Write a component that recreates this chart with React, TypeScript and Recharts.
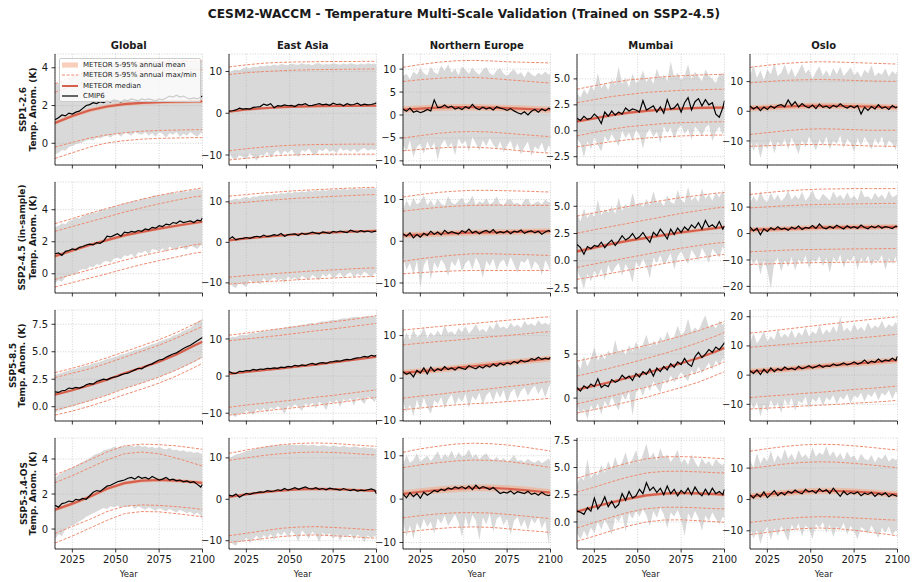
import React from 'react';
import { ComposedChart, Area, Line, XAxis, YAxis, CartesianGrid, Legend } from 'recharts';

const FONT = '"DejaVu Sans", "Liberation Sans", sans-serif';
const TITLE = 'CESM2-WACCM - Temperature Multi-Scale Validation (Trained on SSP2-4.5)';

const SCENARIOS = ['SSP1-2.6', 'SSP2-4.5 (in-sample)', 'SSP5-8.5', 'SSP5-3.4-OS'];
const Y_LABEL = 'Temp. Anom. (K)';
const REGIONS = ['Global', 'East Asia', 'Northern Europe', 'Mumbai', 'Oslo'];
const YEAR_TICKS = [2025, 2050, 2075, 2100];

// CMIP6 samples: every other year plus the final year
const SAMPLE_YEARS = [
  2015, 2017, 2019, 2021, 2023, 2025, 2027, 2029, 2031, 2033, 2035, 2037, 2039, 2041, 2043,
  2045, 2047, 2049, 2051, 2053, 2055, 2057, 2059, 2061, 2063, 2065, 2067, 2069, 2071, 2073,
  2075, 2077, 2079, 2081, 2083, 2085, 2087, 2089, 2091, 2093, 2095, 2097, 2099, 2100,
];
// METEOR ensemble statistics, decadal steps
const ENSEMBLE_YEARS = [2015, 2025, 2035, 2045, 2055, 2065, 2075, 2085, 2095, 2100];

// Region order in every table: Global, East Asia, Northern Europe, Mumbai, Oslo
const Y_TICKS = [
  [[0, 2, 4], [-10, 0, 10], [-10, -5, 0, 5, 10], [-2.5, 0, 2.5, 5], [-10, 0, 10]],
  [[0, 2, 4], [-10, 0, 10], [-10, 0, 10], [-2.5, 0, 2.5, 5], [-20, -10, 0, 10]],
  [[0, 2.5, 5, 7.5], [-10, 0, 10], [-10, 0, 10], [0, 5], [-10, 0, 10, 20]],
  [[0, 2, 4], [-10, 0, 10], [-10, 0, 10], [0, 2.5, 5, 7.5], [-10, 0, 10]],
];
const Y_DECIMALS = [
  [0, 0, 0, 1, 0],
  [0, 0, 0, 1, 0],
  [1, 0, 0, 0, 0],
  [0, 0, 0, 1, 0],
];
const Y_DOMAINS = [
  [[-1.15, 4.73], [-12.4, 14.2], [-10.9, 13.3], [-3.3, 7.4], [-18.1, 19.3]],
  [[-1.2, 5.73], [-12.5, 14.9], [-12.4, 14.2], [-2.96, 7.23], [-22.5, 19.5]],
  [[-1.3, 8.8], [-12.1, 17.8], [-10.05, 16], [-2.6, 10.0], [-15.7, 22.3]],
  [[-1.14, 5.2], [-12.0, 14.8], [-11.5, 14.1], [-2.48, 7.71], [-15.8, 19.6]],
];

// ---------------- SSP1-2.6 ----------------
const ssp126Median = [
  [1.08, 1.45, 1.75, 1.95, 2.07, 2.14, 2.18, 2.2, 2.22, 2.22],
  [0.4, 0.9, 1.2, 1.45, 1.6, 1.7, 1.75, 1.78, 1.8, 1.8],
  [1.2, 1.4, 1.6, 1.7, 1.7, 1.6, 1.5, 1.35, 1.2, 1.15],
  [0.9, 1.2, 1.5, 1.75, 1.92, 2.05, 2.13, 2.2, 2.23, 2.24],
  [1.0, 1.3, 1.6, 1.8, 1.85, 1.8, 1.7, 1.55, 1.4, 1.35],
];
const ssp126BandLo = [
  [0.98, 1.35, 1.65, 1.85, 1.97, 2.04, 2.08, 2.1, 2.12, 2.12],
  [0.1, 0.6, 0.9, 1.15, 1.3, 1.4, 1.45, 1.48, 1.5, 1.5],
  [0.5, 0.7, 0.9, 1.0, 1.0, 0.9, 0.8, 0.65, 0.5, 0.45],
  [0.75, 1.05, 1.35, 1.6, 1.77, 1.9, 1.98, 2.05, 2.08, 2.09],
  [0.0, 0.3, 0.6, 0.8, 0.85, 0.8, 0.7, 0.55, 0.4, 0.35],
];
const ssp126BandHi = [
  [1.18, 1.55, 1.85, 2.05, 2.17, 2.24, 2.28, 2.3, 2.32, 2.32],
  [0.7, 1.2, 1.5, 1.75, 1.9, 2.0, 2.05, 2.08, 2.1, 2.1],
  [1.9, 2.1, 2.3, 2.4, 2.4, 2.3, 2.2, 2.05, 1.9, 1.85],
  [1.05, 1.35, 1.65, 1.9, 2.07, 2.2, 2.28, 2.35, 2.38, 2.39],
  [2.0, 2.3, 2.6, 2.8, 2.85, 2.8, 2.7, 2.55, 2.4, 2.35],
];
const ssp126OuterHi = [
  [3.15, 3.5, 3.85, 4.1, 4.22, 4.3, 4.33, 4.35, 4.36, 4.36],
  [11.1, 11.6, 12.0, 12.2, 12.3, 12.35, 12.4, 12.4, 12.45, 12.45],
  [10.4, 11.0, 11.5, 11.8, 11.9, 11.8, 11.6, 11.5, 11.4, 11.35],
  [4.0, 4.35, 4.65, 4.9, 5.05, 5.2, 5.3, 5.38, 5.42, 5.45],
  [14.8, 15.5, 16.1, 16.5, 16.7, 16.6, 16.4, 16.2, 16.0, 15.9],
];
const ssp126InnerHi = [
  [2.7, 3.05, 3.35, 3.6, 3.75, 3.82, 3.86, 3.88, 3.9, 3.9],
  [9.3, 9.7, 10.0, 10.2, 10.35, 10.45, 10.5, 10.55, 10.6, 10.6],
  [7.3, 7.7, 8.0, 8.2, 8.2, 8.0, 7.7, 7.4, 7.1, 7.0],
  [2.7, 3.0, 3.3, 3.5, 3.7, 3.8, 3.9, 3.95, 4.0, 4.0],
  [9.6, 10.0, 10.4, 10.6, 10.7, 10.6, 10.4, 10.2, 10.1, 10.1],
];
const ssp126InnerLo = [
  [-0.2, 0.05, 0.28, 0.45, 0.56, 0.64, 0.68, 0.7, 0.72, 0.72],
  [-9.0, -8.5, -8.1, -7.8, -7.6, -7.5, -7.45, -7.4, -7.4, -7.4],
  [-5.0, -4.5, -4.0, -3.7, -3.6, -3.7, -4.0, -4.3, -4.6, -4.7],
  [-0.5, -0.15, 0.15, 0.4, 0.55, 0.7, 0.78, 0.83, 0.86, 0.87],
  [-7.8, -7.2, -6.6, -6.1, -5.9, -6.0, -6.2, -6.4, -6.4, -6.4],
];
const ssp126OuterLo = [
  [-0.8, -0.5, -0.2, 0.02, 0.14, 0.22, 0.26, 0.28, 0.3, 0.3],
  [-11.2, -10.8, -10.4, -10.1, -9.95, -9.85, -9.8, -9.8, -9.8, -9.8],
  [-7.8, -7.5, -7.2, -7.0, -7.0, -7.2, -7.5, -7.9, -8.2, -8.3],
  [-1.55, -1.3, -1.05, -0.85, -0.7, -0.6, -0.5, -0.45, -0.42, -0.42],
  [-11.8, -11.6, -11.4, -11.2, -11.2, -11.3, -11.5, -11.7, -11.8, -11.8],
];
const ssp126Cmip6 = [
  [1.25, 1.35, 1.5, 1.45, 1.6, 1.55, 1.65, 1.7, 1.85, 2.0, 2.05, 2.15, 2.1, 2.2, 2.15, 2.25, 2.2, 2.3, 2.25, 2.2, 2.3, 2.25, 2.35, 2.3, 2.25, 2.35, 2.3, 2.35, 2.3, 2.25, 2.35, 2.3, 2.4, 2.5, 2.45, 2.55, 2.45, 2.5, 2.4, 2.35, 2.4, 2.35, 2.45, 2.5],
  [0.5, 0.6, 0.8, 1.2, 1.0, 1.1, 1.0, 1.4, 1.5, 1.6, 2.2, 1.9, 2.3, 1.3, 1.8, 1.7, 2.0, 1.8, 1.9, 1.6, 2.1, 2.0, 2.3, 1.8, 1.9, 2.1, 2.3, 2.0, 2.2, 1.9, 2.4, 2.1, 2.2, 1.8, 2.3, 2.0, 2.1, 2.4, 1.9, 2.2, 2.0, 2.1, 2.3, 2.5],
  [1.3, 0.8, 1.5, 0.6, 0.9, 0.5, 0.8, 1.2, 0.9, 3.3, 1.6, 1.7, 2.2, 1.6, 1.9, 1.3, 1.6, 1.2, 1.8, 1.4, 2.3, 1.5, 1.2, 1.7, 1.3, 1.6, 1.1, 1.8, 1.5, 1.3, 1.0, 1.4, 0.9, 0.5, 0.2, 0.7, 0.0, 0.8, 1.2, 0.6, 1.3, 0.9, 1.5, 1.3],
  [1.2, 1.0, 1.4, 1.1, 1.2, 1.6, 1.3, 0.7, 1.8, 1.4, 1.9, 1.5, 1.8, 1.6, 2.2, 1.9, 2.1, 2.0, 1.8, 2.9, 2.0, 2.2, 2.4, 1.8, 2.3, 1.7, 3.0, 2.1, 2.2, 2.6, 1.8, 2.7, 3.2, 2.0, 2.8, 3.1, 2.4, 3.0, 2.5, 2.7, 1.6, 1.3, 2.2, 2.9],
  [1.8, 0.8, 1.6, 0.2, 1.4, 0.6, 1.8, 1.0, 1.9, 2.2, 1.5, 3.8, 1.9, 3.2, 1.4, 2.6, 1.6, 1.2, 2.1, 0.9, 2.4, 1.3, 1.7, 1.0, 2.0, 1.4, 2.5, 1.6, 1.1, 1.8, 1.2, 1.9, -0.9, 1.4, 0.3, 1.6, 0.8, 2.2, 1.0, 1.5, 0.6, 1.9, 1.2, 1.5],
];
const ssp126RangeHi = [
  [3.1, 3.2, 3.3, 3.25, 3.4, 3.5, 3.55, 3.7, 3.75, 3.85, 3.9, 4.0, 3.95, 4.1, 4.15, 4.1, 4.2, 4.25, 4.2, 4.3, 4.25, 4.35, 4.3, 4.4, 4.3, 4.35, 4.4, 4.3, 4.45, 4.35, 4.4, 4.3, 4.4, 4.45, 4.35, 4.4, 4.3, 4.45, 4.4, 4.35, 4.4, 4.3, 4.4, 4.35],
  [9.8, 10.2, 10.5, 10.3, 10.8, 11.0, 10.7, 11.2, 11.0, 11.4, 11.2, 11.5, 11.3, 11.7, 11.4, 11.8, 11.6, 11.5, 11.9, 11.7, 11.6, 12.0, 11.7, 11.8, 11.5, 11.9, 12.0, 11.6, 11.8, 11.7, 12.0, 11.8, 11.6, 11.9, 11.7, 12.0, 11.8, 11.6, 11.9, 11.7, 12.0, 11.8, 11.9, 11.7],
  [8.5, 9.0, 7.8, 9.5, 8.8, 10.2, 9.1, 8.6, 10.5, 9.3, 8.9, 10.8, 9.6, 11.0, 9.2, 10.1, 8.7, 10.6, 9.8, 9.0, 10.3, 9.4, 8.8, 9.9, 10.4, 9.1, 8.6, 9.7, 10.2, 9.0, 8.5, 9.4, 10.0, 8.8, 9.3, 8.2, 9.6, 8.9, 8.4, 9.2, 8.7, 9.5, 8.8, 9.1],
  [3.6, 3.2, 4.0, 3.5, 4.4, 3.8, 5.6, 4.1, 4.6, 3.9, 5.0, 4.4, 6.2, 4.5, 5.1, 4.2, 5.5, 4.6, 4.9, 5.8, 4.7, 5.2, 4.5, 6.0, 5.0, 5.4, 4.8, 6.7, 5.1, 5.6, 4.9, 5.3, 6.4, 5.0, 5.7, 5.2, 4.8, 5.9, 5.3, 5.0, 4.6, 5.4, 5.6, 5.2],
  [12.0, 15.5, 11.2, 13.8, 10.5, 14.2, 12.5, 16.3, 11.8, 13.0, 15.8, 12.2, 14.5, 11.5, 13.6, 16.0, 12.8, 14.1, 11.0, 13.3, 15.2, 12.0, 13.8, 11.6, 14.6, 12.4, 15.0, 11.9, 13.2, 14.8, 12.1, 13.5, 11.4, 14.0, 12.7, 15.4, 11.8, 13.1, 12.3, 14.4, 11.7, 13.6, 12.5, 13.9],
];
const ssp126RangeLo = [
  [-0.6, -0.5, -0.35, -0.4, -0.2, -0.15, -0.05, 0.0, 0.05, 0.15, 0.2, 0.15, 0.3, 0.25, 0.35, 0.4, 0.3, 0.45, 0.5, 0.35, 0.55, 0.5, 0.4, 0.6, 0.5, 0.45, 0.6, 0.4, 0.55, 0.35, 0.6, 0.5, 0.3, 0.55, 0.45, 0.6, 0.35, 0.5, 0.4, 0.6, 0.45, 0.35, 0.55, 0.5],
  [-9.5, -10.8, -11.2, -10.0, -10.5, -11.0, -9.6, -10.4, -11.3, -9.8, -10.2, -9.2, -10.6, -9.5, -8.8, -10.0, -9.0, -9.5, -8.6, -9.8, -10.4, -8.8, -9.2, -8.5, -9.6, -10.0, -8.7, -9.1, -8.4, -9.3, -8.8, -9.6, -8.3, -9.0, -8.6, -9.2, -8.5, -9.4, -8.7, -8.3, -9.0, -8.6, -8.8, -8.5],
  [-6.5, -8.0, -5.5, -9.2, -7.0, -6.2, -8.5, -5.8, -7.4, -6.0, -9.8, -6.5, -5.4, -7.2, -6.0, -8.8, -5.2, -6.4, -5.6, -8.0, -4.8, -6.2, -7.8, -5.5, -6.8, -5.0, -6.5, -7.4, -5.8, -8.2, -6.6, -5.6, -7.8, -6.2, -8.6, -7.0, -5.8, -9.0, -6.8, -7.6, -6.0, -8.4, -6.6, -7.2],
  [-0.8, -1.2, -2.6, -1.0, -1.8, -0.6, -1.4, -2.0, -0.5, -1.1, -0.3, -0.9, -1.5, 0.0, -0.7, -0.2, -1.0, 0.1, -0.4, -1.7, -0.3, 0.2, -0.6, -0.1, -1.2, 0.4, -0.2, 0.3, -0.8, 0.1, 0.5, -0.3, 0.2, -0.9, 0.4, 0.0, -0.5, 0.3, 0.6, -1.0, -0.1, 0.4, -0.4, 0.2],
  [-9.0, -13.5, -10.5, -15.8, -11.0, -12.6, -9.5, -14.2, -10.2, -12.0, -9.2, -13.0, -8.8, -11.5, -14.5, -9.6, -12.2, -8.6, -10.8, -13.2, -9.4, -11.6, -8.5, -12.8, -9.9, -11.0, -8.2, -12.4, -9.3, -10.6, -13.6, -9.0, -11.8, -8.7, -10.4, -12.9, -9.1, -11.2, -8.4, -12.6, -9.7, -10.9, -13.1, -10.0],
];

// ---------------- SSP2-4.5 ----------------
const ssp245Median = [
  [1.1, 1.45, 1.8, 2.1, 2.4, 2.62, 2.82, 3.0, 3.17, 3.25],
  [0.5, 1.0, 1.35, 1.7, 2.0, 2.25, 2.45, 2.65, 2.8, 2.85],
  [1.4, 1.6, 1.8, 1.95, 2.05, 2.15, 2.2, 2.3, 2.35, 2.4],
  [0.85, 1.2, 1.55, 1.85, 2.1, 2.35, 2.6, 2.8, 3.0, 3.1],
  [1.3, 1.6, 1.8, 2.0, 2.2, 2.3, 2.4, 2.45, 2.5, 2.5],
];
const ssp245BandLo = [
  [1.0, 1.35, 1.7, 2.0, 2.3, 2.52, 2.72, 2.9, 3.07, 3.15],
  [0.2, 0.7, 1.05, 1.4, 1.7, 1.95, 2.15, 2.35, 2.5, 2.55],
  [0.7, 0.9, 1.1, 1.25, 1.35, 1.45, 1.5, 1.6, 1.65, 1.7],
  [0.7, 1.05, 1.4, 1.7, 1.95, 2.2, 2.45, 2.65, 2.85, 2.95],
  [0.3, 0.6, 0.8, 1.0, 1.2, 1.3, 1.4, 1.45, 1.5, 1.5],
];
const ssp245BandHi = [
  [1.2, 1.55, 1.9, 2.2, 2.5, 2.72, 2.92, 3.1, 3.27, 3.35],
  [0.8, 1.3, 1.65, 2.0, 2.3, 2.55, 2.75, 2.95, 3.1, 3.15],
  [2.1, 2.3, 2.5, 2.65, 2.75, 2.85, 2.9, 3.0, 3.05, 3.1],
  [1.0, 1.35, 1.7, 2.0, 2.25, 2.5, 2.75, 2.95, 3.15, 3.25],
  [2.3, 2.6, 2.8, 3.0, 3.2, 3.3, 3.4, 3.45, 3.5, 3.5],
];
const ssp245OuterHi = [
  [3.13, 3.45, 3.78, 4.08, 4.38, 4.65, 4.9, 5.1, 5.28, 5.36],
  [11.4, 11.8, 12.2, 12.5, 12.8, 13.0, 13.2, 13.4, 13.55, 13.6],
  [10.6, 11.2, 11.7, 12.0, 12.2, 12.2, 12.1, 12.0, 11.85, 11.8],
  [4.1, 4.4, 4.7, 5.0, 5.3, 5.55, 5.8, 6.0, 6.2, 6.27],
  [14.8, 15.5, 16.1, 16.5, 16.8, 16.9, 17.0, 17.0, 17.0, 17.0],
];
const ssp245InnerHi = [
  [2.65, 2.95, 3.25, 3.55, 3.85, 4.12, 4.37, 4.6, 4.8, 4.86],
  [9.55, 9.9, 10.3, 10.6, 10.9, 11.1, 11.35, 11.55, 11.75, 11.8],
  [7.2, 7.7, 8.1, 8.4, 8.6, 8.65, 8.65, 8.6, 8.6, 8.6],
  [2.53, 2.85, 3.15, 3.45, 3.75, 4.05, 4.35, 4.6, 4.85, 4.9],
  [9.7, 10.1, 10.5, 10.8, 11.0, 11.1, 11.2, 11.3, 11.4, 11.4],
];
const ssp245InnerLo = [
  [-0.35, -0.05, 0.25, 0.55, 0.85, 1.12, 1.36, 1.58, 1.8, 1.88],
  [-8.6, -8.2, -7.9, -7.6, -7.3, -7.0, -6.8, -6.55, -6.35, -6.3],
  [-4.8, -4.2, -3.7, -3.3, -3.0, -3.0, -3.1, -3.2, -3.35, -3.4],
  [-0.6, -0.3, 0.0, 0.3, 0.6, 0.9, 1.15, 1.4, 1.62, 1.68],
  [-6.9, -6.6, -6.3, -6.1, -6.0, -5.9, -5.8, -5.75, -5.7, -5.7],
];
const ssp245OuterLo = [
  [-0.83, -0.55, -0.27, 0.0, 0.3, 0.58, 0.82, 1.05, 1.28, 1.36],
  [-10.3, -10.0, -9.7, -9.5, -9.2, -9.0, -8.8, -8.6, -8.45, -8.4],
  [-7.8, -7.5, -7.3, -7.1, -7.0, -7.0, -7.0, -7.0, -7.0, -7.0],
  [-1.7, -1.45, -1.15, -0.85, -0.55, -0.25, 0.0, 0.25, 0.5, 0.6],
  [-11.7, -11.5, -11.3, -11.1, -11.0, -10.9, -10.8, -10.75, -10.7, -10.7],
];
const ssp245Cmip6 = [
  [1.25, 1.3, 1.15, 1.4, 1.45, 1.55, 1.5, 1.65, 1.7, 1.8, 1.85, 1.8, 1.95, 1.9, 2.05, 2.35, 2.3, 2.4, 2.5, 2.35, 2.6, 2.55, 2.65, 2.6, 2.7, 2.65, 2.8, 2.75, 2.9, 2.85, 3.0, 2.95, 3.1, 3.05, 3.2, 3.15, 3.3, 3.2, 3.25, 3.3, 3.2, 3.35, 3.3, 3.5],
  [0.8, 1.4, 0.6, 0.9, 1.0, 1.2, 1.0, 1.3, 1.5, 1.3, 1.8, 1.4, 1.6, 1.9, 1.7, 2.2, 1.5, 1.9, 2.0, 2.1, 1.7, 2.3, 2.0, 2.2, 2.5, 2.3, 2.1, 2.6, 2.4, 2.2, 2.7, 2.5, 2.8, 2.6, 2.4, 3.0, 2.7, 2.5, 2.9, 2.6, 2.8, 2.5, 2.7, 2.8],
  [1.8, 1.2, 2.0, 0.8, 1.6, 1.0, 1.9, 1.4, 2.4, 1.7, 2.2, 1.5, 2.6, 1.9, 2.3, 2.0, 1.7, 2.5, 2.1, 2.9, 2.0, 2.4, 1.8, 2.3, 2.6, 2.1, 2.8, 1.9, 2.3, 2.0, 2.5, 1.8, 2.4, 2.2, 2.7, 1.9, 2.3, 2.5, 2.0, 2.4, 1.7, 2.2, 2.6, 2.3],
  [1.5, 1.2, 0.6, 1.3, 1.1, 1.4, 1.3, 1.7, 1.2, 1.6, 1.9, 1.4, 1.8, 2.3, 1.9, 2.1, 2.5, 2.0, 2.2, 2.6, 2.1, 1.7, 2.6, 2.3, 2.9, 2.5, 2.0, 2.9, 2.4, 3.0, 2.6, 3.1, 2.8, 3.3, 3.0, 3.5, 2.9, 3.7, 3.1, 3.3, 3.0, 3.6, 2.9, 3.2],
  [2.5, 1.0, 2.0, -0.5, 1.8, 0.8, 2.2, 1.4, 2.6, 1.6, 2.0, 1.2, 2.4, 1.8, 2.8, 1.5, 2.3, 2.0, 3.0, 1.9, 3.6, 2.2, 1.8, 2.7, 2.0, 3.1, 2.4, 1.7, 2.9, 2.1, 2.6, 1.9, 3.2, 2.3, 1.8, 2.8, 2.2, 3.0, 2.0, 2.6, 2.3, 1.9, 2.8, 2.6],
];
const ssp245RangeHi = [
  [2.9, 3.0, 3.15, 3.1, 3.3, 3.35, 3.5, 3.45, 3.6, 3.7, 3.75, 3.85, 3.8, 4.0, 4.05, 4.0, 4.15, 4.25, 4.2, 4.35, 4.4, 4.45, 4.5, 4.6, 4.55, 4.7, 4.75, 4.7, 4.85, 4.9, 4.85, 5.0, 4.95, 5.05, 5.1, 5.0, 5.15, 5.2, 5.1, 5.25, 5.2, 5.3, 5.25, 5.3],
  [10.2, 10.5, 10.8, 10.6, 11.0, 11.2, 10.9, 11.4, 11.2, 11.6, 11.5, 11.8, 11.6, 12.0, 11.8, 12.2, 12.0, 12.4, 12.1, 12.5, 12.3, 12.6, 12.4, 12.8, 12.5, 12.9, 12.6, 13.0, 12.7, 13.1, 12.8, 13.2, 12.9, 13.3, 13.0, 13.2, 13.4, 13.1, 13.4, 13.2, 13.5, 13.3, 13.4, 13.3],
  [7.5, 9.8, 8.2, 10.5, 8.8, 9.4, 11.0, 8.6, 9.9, 8.4, 10.2, 9.0, 8.5, 10.8, 9.3, 8.8, 9.7, 10.4, 8.9, 9.5, 10.9, 8.7, 9.6, 9.1, 10.3, 8.8, 9.4, 10.7, 9.0, 8.6, 9.8, 10.1, 8.9, 9.3, 8.5, 9.9, 10.2, 8.7, 9.2, 9.6, 8.8, 10.0, 9.3, 9.5],
  [4.3, 3.6, 4.8, 3.9, 4.5, 4.0, 5.6, 4.2, 4.7, 4.4, 5.0, 4.3, 5.8, 4.6, 5.2, 4.8, 6.2, 5.0, 5.4, 4.9, 5.7, 5.1, 6.4, 5.3, 5.5, 5.0, 6.0, 5.4, 5.2, 6.5, 5.6, 5.3, 6.8, 5.5, 5.9, 5.4, 6.6, 5.7, 6.1, 5.5, 6.3, 5.8, 6.5, 5.9],
  [11.5, 14.2, 12.0, 16.0, 13.1, 11.8, 15.5, 12.6, 14.8, 12.2, 13.6, 16.2, 12.8, 14.5, 13.0, 15.8, 12.4, 14.0, 16.5, 13.3, 12.7, 15.1, 13.8, 12.5, 16.0, 13.4, 14.7, 12.9, 15.6, 13.2, 14.3, 12.6, 16.8, 13.7, 14.1, 12.8, 15.4, 13.5, 14.8, 12.9, 16.2, 13.6, 14.4, 15.0],
];
const ssp245RangeLo = [
  [-0.6, -0.4, -0.5, -0.2, -0.1, 0.0, -0.05, 0.2, 0.3, 0.25, 0.45, 0.4, 0.6, 0.55, 0.75, 0.8, 0.7, 0.95, 1.0, 0.9, 1.15, 1.1, 1.25, 1.0, 1.35, 1.3, 1.45, 1.2, 1.55, 1.5, 1.4, 1.6, 1.35, 1.7, 1.55, 1.45, 1.75, 1.6, 1.5, 1.8, 1.65, 1.55, 1.8, 1.7],
  [-9.5, -10.8, -11.3, -9.8, -10.5, -11.0, -9.2, -10.2, -9.6, -10.4, -8.8, -9.9, -9.2, -8.6, -9.5, -8.9, -10.0, -8.4, -9.1, -8.7, -9.6, -8.2, -8.8, -9.3, -8.0, -8.6, -9.4, -7.8, -8.5, -7.6, -9.0, -8.2, -7.5, -8.8, -7.9, -7.4, -8.6, -7.7, -8.3, -7.2, -7.9, -8.8, -7.5, -8.0],
  [-3.5, -6.8, -5.2, -8.0, -4.6, -11.0, -5.8, -4.2, -9.2, -5.0, -6.6, -4.4, -5.6, -8.4, -4.8, -6.0, -4.0, -7.2, -5.3, -4.5, -6.8, -3.9, -5.5, -8.8, -4.6, -5.9, -4.2, -7.0, -5.1, -4.4, -6.3, -3.8, -5.6, -7.6, -4.7, -5.2, -4.1, -6.9, -4.8, -5.7, -8.2, -4.5, -6.1, -7.4],
  [-0.8, -1.6, -2.6, -1.2, -1.9, -0.9, -1.5, -0.7, -1.8, -0.4, -1.2, -0.6, -0.2, -1.4, -0.3, -0.9, -2.0, -0.1, -0.6, 0.2, -0.5, -1.6, 0.3, -0.2, 0.5, -0.4, 0.1, 0.7, -0.8, 0.4, 0.9, 0.2, -0.3, 1.0, 0.5, 0.0, 1.2, 0.6, -0.2, 1.1, 0.7, 0.3, 1.3, 0.8],
  [-8.5, -12.0, -9.4, -15.5, -10.2, -13.8, -21.0, -11.0, -9.2, -14.5, -10.0, -12.6, -8.8, -14.0, -9.6, -11.4, -8.3, -13.2, -9.9, -10.8, -8.6, -12.4, -9.2, -14.8, -8.9, -11.0, -8.0, -12.9, -9.5, -10.4, -8.2, -13.6, -9.1, -11.2, -8.4, -12.1, -9.7, -10.6, -8.1, -13.8, -9.3, -11.5, -8.7, -12.4],
];

// ---------------- SSP5-8.5 ----------------
const ssp585Median = [
  [1.1, 1.5, 1.95, 2.45, 3.05, 3.55, 4.1, 4.75, 5.55, 5.92],
  [0.6, 1.1, 1.6, 2.1, 2.6, 3.1, 3.7, 4.3, 4.9, 5.2],
  [1.3, 1.6, 2.0, 2.4, 2.8, 3.2, 3.6, 4.0, 4.4, 4.6],
  [0.95, 1.4, 1.85, 2.35, 2.85, 3.4, 3.95, 4.55, 5.3, 5.7],
  [1.2, 1.6, 2.0, 2.5, 3.0, 3.5, 3.9, 4.4, 4.9, 5.1],
];
const ssp585BandLo = [
  [1.0, 1.4, 1.85, 2.35, 2.95, 3.45, 4.0, 4.65, 5.45, 5.82],
  [0.3, 0.8, 1.3, 1.8, 2.3, 2.8, 3.4, 4.0, 4.6, 4.9],
  [0.6, 0.9, 1.3, 1.7, 2.1, 2.5, 2.9, 3.3, 3.7, 3.9],
  [0.8, 1.25, 1.7, 2.2, 2.7, 3.25, 3.8, 4.4, 5.15, 5.55],
  [0.2, 0.6, 1.0, 1.5, 2.0, 2.5, 2.9, 3.4, 3.9, 4.1],
];
const ssp585BandHi = [
  [1.2, 1.6, 2.05, 2.55, 3.15, 3.65, 4.2, 4.85, 5.65, 6.02],
  [0.9, 1.4, 1.9, 2.4, 2.9, 3.4, 4.0, 4.6, 5.2, 5.5],
  [2.0, 2.3, 2.7, 3.1, 3.5, 3.9, 4.3, 4.7, 5.1, 5.3],
  [1.1, 1.55, 2.0, 2.5, 3.0, 3.55, 4.1, 4.7, 5.45, 5.85],
  [2.2, 2.6, 3.0, 3.5, 4.0, 4.5, 4.9, 5.4, 5.9, 6.1],
];
const ssp585OuterHi = [
  [3.1, 3.5, 3.95, 4.45, 5.0, 5.55, 6.1, 6.75, 7.5, 7.9],
  [11.0, 11.6, 12.2, 12.8, 13.4, 14.0, 14.6, 15.2, 15.9, 16.3],
  [11.3, 11.7, 12.1, 12.5, 12.8, 13.2, 13.6, 13.9, 14.3, 14.4],
  [4.2, 4.6, 5.05, 5.5, 6.0, 6.5, 7.05, 7.65, 8.35, 8.7],
  [14.4, 15.0, 15.7, 16.4, 17.1, 17.8, 18.5, 19.1, 19.7, 20.0],
];
const ssp585InnerHi = [
  [2.65, 3.05, 3.45, 3.95, 4.5, 5.05, 5.6, 6.25, 6.95, 7.3],
  [9.5, 10.0, 10.5, 11.0, 11.6, 12.2, 12.7, 13.3, 13.9, 14.2],
  [7.8, 8.2, 8.6, 8.9, 9.3, 9.7, 10.0, 10.4, 10.8, 10.9],
  [2.5, 2.95, 3.45, 3.95, 4.5, 5.05, 5.65, 6.3, 7.05, 7.45],
  [9.5, 10.0, 10.5, 11.0, 11.5, 12.0, 12.6, 13.1, 13.7, 14.0],
];
const ssp585InnerLo = [
  [-0.3, 0.1, 0.55, 1.05, 1.65, 2.15, 2.7, 3.35, 4.1, 4.55],
  [-8.4, -7.8, -7.3, -6.8, -6.3, -5.7, -5.2, -4.6, -4.0, -3.7],
  [-4.7, -4.2, -3.8, -3.3, -2.9, -2.5, -2.0, -1.6, -1.0, -0.8],
  [-0.65, -0.2, 0.25, 0.75, 1.25, 1.8, 2.35, 2.95, 3.7, 4.15],
  [-7.7, -7.2, -6.8, -6.3, -5.9, -5.4, -4.9, -4.5, -4.0, -3.7],
];
const ssp585OuterLo = [
  [-0.76, -0.4, 0.05, 0.55, 1.1, 1.6, 2.15, 2.8, 3.55, 3.95],
  [-10.5, -10.0, -9.4, -8.9, -8.4, -7.9, -7.3, -6.7, -6.0, -5.7],
  [-7.4, -7.0, -6.6, -6.3, -6.0, -5.8, -5.5, -5.2, -4.9, -4.7],
  [-1.7, -1.3, -0.85, -0.4, 0.1, 0.65, 1.2, 1.8, 2.6, 3.0],
  [-11.6, -11.3, -11.0, -10.6, -10.3, -10.0, -9.6, -9.3, -8.9, -8.6],
];
const ssp585Cmip6 = [
  [1.35, 1.3, 1.45, 1.5, 1.7, 1.65, 1.75, 1.7, 1.8, 2.0, 2.1, 2.05, 2.3, 2.4, 2.5, 2.45, 2.6, 2.7, 2.75, 2.9, 3.0, 3.05, 3.2, 3.35, 3.5, 3.45, 3.65, 3.8, 3.9, 4.1, 4.25, 4.3, 4.5, 4.65, 4.8, 4.9, 5.1, 5.3, 5.45, 5.6, 5.8, 6.0, 6.2, 6.3],
  [1.2, 0.8, 0.7, 1.3, 1.2, 1.5, 1.4, 1.8, 1.6, 1.9, 1.8, 2.1, 2.0, 2.2, 2.1, 2.4, 2.3, 2.6, 2.5, 2.9, 2.7, 3.0, 2.8, 3.2, 3.4, 3.1, 3.5, 3.6, 3.4, 3.8, 3.9, 4.1, 4.0, 4.3, 4.5, 4.4, 4.7, 4.9, 5.0, 5.3, 5.1, 5.6, 5.4, 5.6],
  [1.5, 0.9, 1.3, 0.3, 1.8, 1.2, 2.4, 1.0, 2.6, 1.6, 2.2, 1.8, 2.7, 2.0, 2.4, 1.9, 2.6, 2.3, 2.1, 2.9, 2.5, 2.2, 2.8, 2.4, 3.0, 2.6, 3.3, 2.8, 3.5, 3.1, 3.6, 3.3, 3.9, 3.5, 4.2, 3.8, 4.0, 4.6, 4.3, 4.9, 4.4, 4.7, 4.5, 4.9],
  [1.2, 0.8, 1.4, 1.1, 1.6, 1.3, 2.2, 1.2, 1.5, 1.3, 2.1, 1.8, 2.0, 2.6, 2.2, 2.5, 2.0, 2.8, 2.4, 3.0, 2.7, 3.3, 2.5, 3.4, 3.0, 3.6, 3.2, 3.9, 3.5, 4.1, 3.8, 4.5, 3.9, 3.6, 4.7, 5.2, 4.6, 5.0, 5.5, 5.2, 5.8, 5.5, 6.0, 6.3],
  [1.5, 0.6, 1.8, 0.2, 2.0, 0.8, 2.5, 1.2, 2.2, 1.6, 2.8, 2.0, 2.4, 1.8, 3.0, 2.2, 2.6, 3.2, 2.4, 2.9, 3.5, 2.7, 3.2, 3.0, 3.8, 3.3, 3.6, 4.2, 3.5, 3.9, 4.5, 3.8, 4.2, 5.2, 4.0, 4.8, 4.4, 5.5, 4.6, 5.2, 4.9, 5.8, 5.0, 6.5],
];
const ssp585RangeHi = [
  [2.9, 3.0, 3.1, 3.2, 3.3, 3.4, 3.45, 3.6, 3.65, 3.75, 3.8, 3.95, 4.0, 4.1, 4.2, 4.35, 4.4, 4.5, 4.6, 4.75, 4.8, 4.9, 5.0, 5.15, 5.2, 5.35, 5.45, 5.55, 5.7, 5.75, 5.9, 6.05, 6.15, 6.25, 6.45, 6.55, 6.7, 6.9, 7.05, 7.15, 7.45, 7.7, 7.9, 8.0],
  [10.2, 10.6, 10.5, 11.0, 11.2, 11.0, 11.5, 11.7, 11.6, 12.0, 12.2, 12.1, 12.5, 12.6, 12.8, 12.7, 13.1, 13.2, 13.5, 13.3, 13.7, 13.9, 13.8, 14.2, 14.3, 14.1, 14.6, 14.8, 14.7, 15.0, 15.2, 15.1, 15.4, 15.6, 15.5, 15.8, 15.9, 16.0, 15.8, 16.1, 16.2, 16.0, 16.3, 16.2],
  [8.5, 10.8, 9.0, 11.5, 9.6, 10.2, 12.0, 9.4, 10.8, 9.8, 11.2, 10.0, 12.4, 10.6, 11.0, 10.2, 11.8, 10.8, 12.2, 10.5, 11.4, 12.8, 11.0, 11.6, 10.8, 12.5, 11.4, 13.2, 11.8, 12.2, 11.5, 13.0, 12.0, 12.6, 11.8, 13.4, 12.4, 12.9, 12.2, 13.6, 12.6, 13.0, 12.5, 13.3],
  [4.0, 3.3, 4.8, 3.6, 4.5, 5.8, 4.2, 5.0, 4.4, 5.4, 4.8, 6.6, 5.0, 5.6, 4.9, 6.0, 5.3, 6.4, 5.6, 6.1, 7.2, 5.8, 6.5, 6.0, 7.0, 6.4, 7.6, 6.6, 7.0, 8.2, 7.1, 7.6, 9.0, 7.5, 8.0, 7.6, 8.6, 9.4, 8.0, 8.4, 7.9, 8.8, 8.3, 8.6],
  [11.0, 14.5, 10.8, 12.6, 15.2, 11.5, 13.4, 12.0, 16.0, 12.8, 14.2, 13.0, 15.5, 12.6, 14.8, 13.5, 16.4, 13.2, 15.0, 14.0, 17.2, 13.8, 15.6, 14.4, 16.8, 14.6, 20.2, 15.0, 16.2, 14.8, 17.6, 15.4, 16.6, 15.0, 18.0, 15.8, 17.0, 16.2, 18.6, 16.0, 17.4, 16.6, 18.2, 17.0],
];
const ssp585RangeLo = [
  [-0.55, -0.35, -0.3, -0.15, -0.05, 0.05, 0.1, 0.25, 0.3, 0.45, 0.5, 0.6, 0.75, 0.85, 0.95, 1.05, 1.2, 1.3, 1.45, 1.55, 1.65, 1.75, 1.85, 1.95, 2.05, 2.15, 2.25, 2.4, 2.45, 2.6, 2.7, 2.8, 2.95, 3.05, 3.2, 3.35, 3.45, 3.6, 3.75, 3.9, 4.05, 4.2, 4.35, 4.45],
  [-9.5, -10.6, -11.0, -9.8, -10.3, -9.2, -9.9, -10.5, -8.8, -9.5, -8.6, -9.8, -8.4, -9.0, -8.1, -8.7, -10.2, -7.9, -8.5, -7.6, -8.3, -9.4, -7.4, -8.0, -7.2, -8.8, -6.9, -7.6, -9.2, -6.7, -7.4, -6.4, -8.3, -6.2, -7.0, -5.9, -8.0, -5.8, -6.5, -7.6, -5.4, -6.2, -7.0, -5.6],
  [-5.5, -8.0, -6.2, -9.0, -5.0, -7.5, -4.6, -6.8, -8.4, -5.2, -6.0, -4.4, -7.2, -5.0, -3.8, -6.4, -4.5, -5.6, -3.6, -7.0, -4.2, -5.2, -3.4, -6.2, -4.0, -3.2, -5.5, -3.0, -4.6, -2.8, -5.8, -3.4, -2.5, -4.8, -3.0, -2.2, -4.2, -2.6, -1.8, -3.8, -2.2, -4.6, -2.0, -1.5],
  [-0.9, -1.8, -1.2, -2.4, -0.8, -1.5, -0.6, -1.9, -0.3, -1.1, 0.2, -0.7, -1.4, 0.4, -0.2, 0.8, -2.0, 0.6, 1.2, 0.2, 1.5, 0.8, 1.9, 1.2, 0.6, 2.1, 1.6, 2.6, 1.8, 2.3, 3.0, 2.4, 1.9, 3.2, 2.6, 3.6, 2.8, 3.4, 4.0, 3.2, 4.3, 3.7, 4.5, 4.2],
  [-8.5, -11.8, -9.2, -14.2, -10.0, -12.5, -8.6, -11.0, -9.4, -13.0, -8.2, -10.4, -7.8, -12.2, -8.8, -9.6, -7.4, -11.4, -8.0, -9.2, -7.2, -10.6, -7.6, -8.8, -6.8, -10.0, -7.3, -8.4, -6.4, -9.6, -6.9, -7.8, -6.0, -9.0, -6.4, -7.5, -5.6, -8.6, -6.0, -7.0, -5.2, -8.2, -5.6, -6.4],
];

// ---------------- SSP5-3.4-OS ----------------
const ssp534Median = [
  [1.1, 1.45, 1.85, 2.3, 2.62, 2.76, 2.8, 2.76, 2.68, 2.64],
  [0.6, 1.2, 1.7, 2.1, 2.4, 2.5, 2.45, 2.3, 2.1, 2.0],
  [1.2, 1.7, 2.1, 2.4, 2.6, 2.6, 2.4, 2.1, 1.7, 1.5],
  [0.95, 1.4, 1.8, 2.15, 2.45, 2.6, 2.66, 2.62, 2.55, 2.5],
  [1.0, 1.6, 2.1, 2.5, 2.7, 2.7, 2.5, 2.2, 1.8, 1.6],
];
const ssp534BandLo = [
  [1.0, 1.35, 1.75, 2.2, 2.52, 2.66, 2.7, 2.66, 2.58, 2.54],
  [0.3, 0.9, 1.4, 1.8, 2.1, 2.2, 2.15, 2.0, 1.8, 1.7],
  [0.4, 0.9, 1.3, 1.6, 1.8, 1.8, 1.6, 1.3, 0.9, 0.7],
  [0.8, 1.25, 1.65, 2.0, 2.3, 2.45, 2.51, 2.47, 2.4, 2.35],
  [0.0, 0.6, 1.1, 1.5, 1.7, 1.7, 1.5, 1.2, 0.8, 0.6],
];
const ssp534BandHi = [
  [1.2, 1.55, 1.95, 2.4, 2.72, 2.86, 2.9, 2.86, 2.78, 2.74],
  [0.9, 1.5, 2.0, 2.4, 2.7, 2.8, 2.75, 2.6, 2.4, 2.3],
  [2.0, 2.5, 2.9, 3.2, 3.4, 3.4, 3.2, 2.9, 2.5, 2.3],
  [1.1, 1.55, 1.95, 2.3, 2.6, 2.75, 2.81, 2.77, 2.7, 2.65],
  [2.0, 2.6, 3.1, 3.5, 3.7, 3.7, 3.5, 3.2, 2.8, 2.6],
];
const ssp534OuterHi = [
  [3.09, 3.5, 3.95, 4.4, 4.75, 4.85, 4.82, 4.75, 4.62, 4.55],
  [11.1, 11.9, 12.6, 13.2, 13.5, 13.6, 13.5, 13.2, 12.9, 12.8],
  [10.8, 11.6, 12.2, 12.7, 12.9, 12.8, 12.5, 12.0, 11.4, 11.1],
  [4.03, 4.5, 5.0, 5.45, 5.8, 5.98, 6.0, 5.95, 5.85, 5.8],
  [15.4, 16.2, 16.9, 17.4, 17.6, 17.5, 17.1, 16.6, 16.0, 15.8],
];
const ssp534InnerHi = [
  [2.65, 3.05, 3.5, 3.95, 4.3, 4.4, 4.3, 4.05, 3.75, 3.6],
  [9.4, 10.0, 10.6, 11.0, 11.3, 11.4, 11.3, 11.1, 10.8, 10.7],
  [7.25, 7.9, 8.4, 8.8, 9.0, 8.95, 8.7, 8.2, 7.6, 7.25],
  [2.75, 3.2, 3.7, 4.15, 4.5, 4.65, 4.66, 4.6, 4.52, 4.5],
  [9.9, 10.6, 11.3, 11.8, 12.0, 11.9, 11.5, 11.0, 10.4, 10.1],
];
const ssp534InnerLo = [
  [-0.25, 0.15, 0.55, 1.0, 1.3, 1.38, 1.35, 1.28, 1.18, 1.12],
  [-8.8, -8.2, -7.6, -7.0, -6.7, -6.6, -6.8, -7.0, -7.3, -7.4],
  [-4.3, -3.8, -3.4, -3.15, -3.1, -3.2, -3.5, -3.9, -4.3, -4.5],
  [-0.55, -0.05, 0.45, 0.9, 1.22, 1.35, 1.35, 1.3, 1.22, 1.2],
  [-7.3, -6.7, -6.1, -5.7, -5.5, -5.6, -5.9, -6.2, -6.5, -6.6],
];
const ssp534OuterLo = [
  [-0.8, -0.4, 0.05, 0.5, 0.88, 1.0, 0.98, 0.88, 0.76, 0.7],
  [-10.4, -10.0, -9.5, -9.0, -8.7, -8.6, -8.8, -9.0, -9.3, -9.4],
  [-7.7, -7.2, -6.8, -6.5, -6.4, -6.5, -6.8, -7.2, -7.5, -7.7],
  [-1.77, -1.3, -0.8, -0.35, 0.0, 0.18, 0.2, 0.12, 0.02, -0.03],
  [-11.2, -10.5, -9.8, -9.3, -9.1, -9.3, -9.8, -10.5, -11.2, -11.6],
];
const ssp534Cmip6 = [
  [1.35, 1.25, 1.45, 1.5, 1.6, 1.55, 1.7, 1.65, 1.75, 1.7, 1.9, 2.1, 2.2, 2.15, 2.3, 2.45, 2.5, 2.6, 2.7, 2.75, 2.8, 2.9, 2.95, 2.85, 3.0, 2.9, 2.95, 2.85, 3.0, 2.9, 2.8, 2.85, 2.95, 2.8, 2.85, 2.75, 2.8, 2.7, 2.75, 2.65, 2.7, 2.55, 2.4, 2.55],
  [1.0, 0.8, 1.3, 0.5, 1.0, 1.4, 1.2, 1.5, 1.6, 1.8, 1.7, 2.1, 1.9, 2.0, 2.3, 2.1, 2.6, 2.2, 2.5, 2.8, 2.4, 2.7, 3.0, 2.6, 2.5, 2.8, 2.4, 2.6, 2.3, 2.7, 2.5, 2.4, 2.2, 2.6, 2.3, 2.1, 2.4, 2.0, 2.2, 2.1, 2.3, 2.5, 2.2, 1.3],
  [1.2, 0.3, 1.5, 0.6, 1.3, 0.2, 1.6, 0.9, 1.4, 2.0, 1.7, 2.3, 2.0, 2.6, 2.3, 2.8, 2.5, 2.9, 2.4, 3.0, 2.2, 3.2, 2.4, 2.9, 2.6, 2.2, 2.7, 2.0, 1.3, 1.6, 1.4, 1.9, 1.2, 1.7, 1.5, 1.3, 1.8, 1.1, 1.4, 0.9, 1.6, 1.0, 0.8, 1.0],
  [1.0, 0.9, 0.7, 1.3, 1.0, 2.2, 1.2, 1.6, 2.3, 1.4, 1.9, 1.3, 1.6, 2.6, 2.0, 2.8, 2.2, 2.4, 3.0, 2.6, 3.6, 2.9, 3.2, 2.7, 3.1, 2.5, 3.3, 2.6, 3.0, 2.4, 2.9, 2.6, 3.1, 2.5, 3.2, 2.7, 2.4, 3.0, 2.5, 3.1, 2.6, 2.8, 2.5, 3.0],
  [1.5, 0.4, 1.8, 0.8, 2.4, 0.6, 1.6, 2.8, 1.2, 2.2, 1.4, 2.6, 2.0, 3.0, 2.2, 1.8, 3.2, 2.4, 2.8, 2.0, 3.4, 2.5, 3.1, 1.9, 3.6, 2.3, 1.0, 2.6, 1.5, 2.2, 1.8, 2.4, 1.2, 2.0, 1.6, 2.3, 1.0, 1.9, 1.4, 2.1, 0.9, 1.6, 1.2, 1.0],
];
const ssp534RangeHi = [
  [2.9, 3.1, 3.2, 3.35, 3.4, 3.55, 3.6, 3.75, 3.85, 3.95, 4.05, 4.2, 4.3, 4.35, 4.5, 4.55, 4.6, 4.7, 4.65, 4.75, 4.7, 4.8, 4.75, 4.7, 4.8, 4.7, 4.75, 4.65, 4.7, 4.6, 4.7, 4.6, 4.55, 4.65, 4.5, 4.55, 4.45, 4.5, 4.4, 4.45, 4.35, 4.4, 4.3, 4.3],
  [10.0, 10.4, 10.8, 11.0, 11.3, 11.6, 11.8, 12.0, 12.3, 12.5, 12.6, 12.8, 13.0, 12.9, 13.1, 13.2, 13.0, 13.3, 13.1, 13.2, 13.0, 13.3, 13.1, 12.9, 13.2, 13.0, 12.8, 13.1, 12.9, 12.7, 13.0, 12.8, 12.6, 12.9, 12.7, 12.5, 12.8, 12.6, 12.4, 12.6, 12.3, 12.5, 12.2, 12.3],
  [7.8, 10.2, 8.4, 9.0, 10.6, 8.6, 9.4, 10.0, 8.8, 9.8, 11.0, 9.2, 10.4, 9.6, 11.2, 9.4, 10.8, 9.8, 10.2, 11.5, 9.6, 10.4, 9.2, 10.0, 10.6, 9.4, 9.0, 9.8, 8.8, 9.5, 8.6, 9.2, 10.1, 8.8, 9.0, 8.5, 9.3, 8.7, 8.4, 9.0, 8.3, 8.8, 9.4, 8.6],
  [3.4, 4.2, 3.8, 5.8, 4.0, 4.6, 4.3, 5.2, 4.5, 5.6, 4.8, 6.0, 5.0, 5.5, 6.4, 5.2, 5.8, 6.6, 5.4, 6.2, 7.2, 5.8, 6.4, 5.6, 6.8, 5.9, 6.2, 5.5, 6.0, 6.6, 5.4, 5.8, 5.2, 6.2, 5.5, 5.0, 5.9, 5.3, 5.6, 5.1, 5.8, 5.4, 5.2, 5.5],
  [12.5, 10.2, 14.8, 11.4, 13.6, 12.0, 15.6, 11.8, 14.2, 12.6, 16.0, 13.0, 14.6, 12.4, 15.8, 13.4, 14.4, 12.8, 16.6, 13.6, 15.0, 14.2, 17.0, 13.8, 15.4, 13.2, 14.8, 12.6, 15.2, 13.4, 14.0, 12.2, 14.6, 13.0, 12.4, 14.2, 11.8, 13.6, 12.8, 14.4, 12.0, 13.2, 12.6, 13.0],
];
const ssp534RangeLo = [
  [-0.6, -0.3, -0.4, 0.0, 0.1, 0.2, 0.3, 0.45, 0.55, 0.7, 0.8, 0.9, 1.0, 1.1, 1.2, 1.15, 1.3, 1.25, 1.35, 1.2, 1.3, 1.25, 1.35, 1.15, 1.3, 1.2, 1.1, 1.25, 1.15, 1.05, 1.2, 1.1, 1.0, 1.15, 1.05, 0.95, 1.1, 1.0, 0.9, 1.0, 0.8, 0.95, 0.75, 0.5],
  [-9.6, -10.8, -11.2, -9.8, -10.4, -9.2, -10.6, -9.5, -8.8, -10.0, -8.6, -9.4, -8.3, -9.8, -8.0, -8.8, -7.8, -9.2, -7.6, -8.5, -10.2, -7.5, -8.4, -9.6, -7.8, -8.7, -10.3, -8.0, -9.0, -8.2, -9.6, -8.4, -10.0, -8.6, -9.2, -8.3, -9.8, -8.5, -9.1, -10.4, -8.7, -9.4, -8.8, -9.6],
  [-5.0, -8.6, -6.0, -9.2, -5.4, -7.0, -4.6, -6.4, -5.2, -8.0, -4.4, -5.6, -3.8, -6.2, -4.8, -3.5, -5.4, -8.8, -4.0, -6.6, -3.6, -5.0, -9.5, -4.2, -5.8, -3.4, -7.6, -4.6, -3.9, -6.0, -4.4, -8.2, -5.0, -4.1, -6.4, -4.8, -7.2, -4.5, -5.6, -4.2, -6.8, -5.0, -10.5, -5.5],
  [-1.0, -1.6, -0.8, -1.4, -0.5, -1.0, 0.0, -0.7, 0.2, -0.4, -1.2, 0.4, 0.0, 0.7, -0.9, 0.8, 0.3, 1.0, 0.5, 1.2, 0.6, -0.4, 1.0, 0.4, 1.3, 0.7, -0.6, 0.9, 0.5, 1.1, 0.3, -1.3, 0.8, 0.2, 1.0, 0.4, -0.8, 0.6, 0.1, 0.9, 0.3, -0.2, 0.5, 0.3],
  [-8.8, -12.5, -9.6, -14.2, -10.4, -8.6, -13.0, -9.2, -11.6, -8.4, -10.8, -13.4, -8.0, -10.0, -7.6, -11.8, -8.2, -9.4, -12.6, -7.8, -9.0, -7.2, -10.6, -8.0, -12.0, -8.6, -9.8, -7.4, -11.2, -8.4, -10.2, -12.8, -8.8, -9.6, -11.0, -8.2, -10.4, -12.2, -9.0, -10.6, -8.6, -11.4, -9.8, -10.2],
];

const SERIES = [
  { median: ssp126Median, bandLo: ssp126BandLo, bandHi: ssp126BandHi, outerHi: ssp126OuterHi, innerHi: ssp126InnerHi, innerLo: ssp126InnerLo, outerLo: ssp126OuterLo, cmip6: ssp126Cmip6, rangeHi: ssp126RangeHi, rangeLo: ssp126RangeLo },
  { median: ssp245Median, bandLo: ssp245BandLo, bandHi: ssp245BandHi, outerHi: ssp245OuterHi, innerHi: ssp245InnerHi, innerLo: ssp245InnerLo, outerLo: ssp245OuterLo, cmip6: ssp245Cmip6, rangeHi: ssp245RangeHi, rangeLo: ssp245RangeLo },
  { median: ssp585Median, bandLo: ssp585BandLo, bandHi: ssp585BandHi, outerHi: ssp585OuterHi, innerHi: ssp585InnerHi, innerLo: ssp585InnerLo, outerLo: ssp585OuterLo, cmip6: ssp585Cmip6, rangeHi: ssp585RangeHi, rangeLo: ssp585RangeLo },
  { median: ssp534Median, bandLo: ssp534BandLo, bandHi: ssp534BandHi, outerHi: ssp534OuterHi, innerHi: ssp534InnerHi, innerLo: ssp534InnerLo, outerLo: ssp534OuterLo, cmip6: ssp534Cmip6, rangeHi: ssp534RangeHi, rangeLo: ssp534RangeLo },
];

// Layout
const COL_LEFT = [55, 229, 403, 577, 750];
const ROW_TOP = [54, 182, 310, 438];
const PLOT_W = 147.5;
const PLOT_H = 111;
const AXIS_W = 44;
const RIGHT_PAD = 16;
const TOP_PAD = 4;
// Row-label line centres (x); they sit just outside the widest tick labels of each row
const ROW_LABEL_X = [
  [23, 32.5],
  [22.2, 32.5],
  [12.5, 22.3],
  [23.5, 32.5],
];

const COLORS = {
  range: '#d9d9d9',
  dash: '#ee8a6e',
  band: '#f4a582',
  median: '#d6604d',
  cmip6: '#000000',
  grid: '#b0b0b0',
  text: '#1a1a1a',
};

const LEGEND_ITEMS = [
  'METEOR 5-95% annual mean',
  'METEOR 5-95% annual max/min',
  'METEOR median',
  'CMIP6',
];

function legendHandle(i: number) {
  if (i === 0) return <rect x={0} y={1.5} width={16} height={5} fill={COLORS.band} fillOpacity={0.55} />;
  if (i === 1) return <line x1={0} x2={16} y1={4} y2={4} stroke={COLORS.dash} strokeWidth={1} strokeDasharray="3 1.6" />;
  if (i === 2) return <line x1={0} x2={16} y1={4} y2={4} stroke={COLORS.median} strokeWidth={2} />;
  return <line x1={0} x2={16} y1={4} y2={4} stroke={COLORS.cmip6} strokeWidth={1.2} />;
}

function LegendBox() {
  return (
    <div
      style={{
        width: 142,
        height: 44,
        boxSizing: 'border-box',
        border: '0.8px solid #cccccc',
        borderRadius: 2,
        background: 'rgba(255,255,255,0.8)',
        padding: '1px 0 0 2px',
        fontFamily: FONT,
        fontSize: 7,
        color: COLORS.text,
      }}
    >
      {LEGEND_ITEMS.map((label, i) => (
        <div key={label} style={{ display: 'flex', alignItems: 'center', height: 10.3 }}>
          <svg width={16} height={8} style={{ flex: 'none' }}>
            {legendHandle(i)}
          </svg>
          <span style={{ marginLeft: 5, whiteSpace: 'nowrap', lineHeight: '10px' }}>{label}</span>
        </div>
      ))}
    </div>
  );
}

function Panel({ row, col }: { row: number; col: number }) {
  const s = SERIES[row];
  const data = SAMPLE_YEARS.map((year, i) => {
    const d: Record<string, unknown> = {
      year,
      range: [s.rangeLo[col][i], s.rangeHi[col][i]],
      cmip6: s.cmip6[col][i],
    };
    const j = ENSEMBLE_YEARS.indexOf(year);
    if (j >= 0) {
      d.band = [s.bandLo[col][j], s.bandHi[col][j]];
      d.median = s.median[col][j];
      d.outerHi = s.outerHi[col][j];
      d.innerHi = s.innerHi[col][j];
      d.innerLo = s.innerLo[col][j];
      d.outerLo = s.outerLo[col][j];
    }
    return d;
  });

  const isBottom = row === SCENARIOS.length - 1;
  const xh = isBottom ? 24 : 5;
  const domain = Y_DOMAINS[row][col];
  const dec = Y_DECIMALS[row][col];
  const fmtY = (v: number) => (dec ? v.toFixed(dec) : String(v)).replace('-', '\u2212');
  const spine = { stroke: '#000', strokeWidth: 0.8 };
  const tickStyle = { fontSize: 10, fill: COLORS.text, fontFamily: FONT };
  const dashProps = {
    type: 'linear' as const,
    stroke: COLORS.dash,
    strokeWidth: 1,
    strokeDasharray: '3 1.6',
    dot: false,
    activeDot: false,
    connectNulls: true,
    isAnimationActive: false,
  };

  return (
    <div style={{ position: 'absolute', left: COL_LEFT[col] - AXIS_W, top: ROW_TOP[row] - TOP_PAD }}>
      <ComposedChart
        width={AXIS_W + PLOT_W + RIGHT_PAD}
        height={TOP_PAD + PLOT_H + xh}
        data={data}
        margin={{ top: TOP_PAD, right: RIGHT_PAD, left: 0, bottom: 0 }}
      >
        <Area dataKey="range" type="linear" stroke="none" fill={COLORS.range} fillOpacity={1} isAnimationActive={false} activeDot={false} />
        <Area dataKey="band" type="linear" stroke="none" fill={COLORS.band} fillOpacity={0.55} connectNulls isAnimationActive={false} activeDot={false} />
        <CartesianGrid stroke={COLORS.grid} strokeOpacity={0.7} strokeWidth={0.8} strokeDasharray="1 1.6" zIndex={150} />
        <Line dataKey="outerHi" {...dashProps} />
        <Line dataKey="innerHi" {...dashProps} />
        <Line dataKey="innerLo" {...dashProps} />
        <Line dataKey="outerLo" {...dashProps} />
        <Line dataKey="median" type="linear" stroke={COLORS.median} strokeWidth={2.2} dot={false} activeDot={false} connectNulls isAnimationActive={false} />
        <Line dataKey="cmip6" type="linear" stroke={COLORS.cmip6} strokeWidth={1.2} dot={false} activeDot={false} isAnimationActive={false} />
        <XAxis
          dataKey="year"
          type="number"
          domain={[2015, 2100]}
          ticks={YEAR_TICKS}
          interval={0}
          allowDataOverflow
          height={xh}
          tickSize={3.5}
          tickMargin={3.5}
          axisLine={spine}
          tickLine={spine}
          tick={tickStyle}
          tickFormatter={(v: number) => (isBottom ? String(v) : '')}
        />
        <XAxis xAxisId="top" orientation="top" dataKey="year" type="number" domain={[2015, 2100]} allowDataOverflow height={0} tick={false} tickLine={false} axisLine={spine} />
        <YAxis
          type="number"
          domain={domain}
          ticks={Y_TICKS[row][col]}
          interval={0}
          allowDataOverflow
          width={AXIS_W}
          tickSize={3.5}
          tickMargin={3.5}
          axisLine={spine}
          tickLine={spine}
          tick={tickStyle}
          tickFormatter={fmtY}
        />
        <YAxis yAxisId="right" orientation="right" type="number" domain={domain} allowDataOverflow width={0} tick={false} tickLine={false} axisLine={spine} />
        {row === 0 && col === 0 && (
          <Legend
            layout="vertical"
            align="center"
            verticalAlign="middle"
            wrapperStyle={{ left: 48, top: 8, width: 142, height: 44 }}
            content={() => <LegendBox />}
          />
        )}
      </ComposedChart>
    </div>
  );
}

export default function App() {
  return (
    <div style={{ position: 'absolute', left: 0, top: 0, width: 913, height: 582, background: '#ffffff', fontFamily: FONT }}>
      <svg width={913} height={582} style={{ position: 'absolute', left: 0, top: 0 }}>
        <text x={464} y={18} textAnchor="middle" fontFamily={FONT} fontSize={12.2} fontWeight="bold" fill={COLORS.text}>
          {TITLE}
        </text>
        {REGIONS.map((name, c) => (
          <text key={name} x={COL_LEFT[c] + PLOT_W / 2} y={48.5} textAnchor="middle" fontFamily={FONT} fontSize={10} fontWeight="bold" fill={COLORS.text}>
            {name}
          </text>
        ))}
        {SCENARIOS.map((name, r) => {
          const yc = ROW_TOP[r] + PLOT_H / 2;
          const [x1, x2] = ROW_LABEL_X[r];
          return (
            <g key={name} fontFamily={FONT} fontSize={9} fontWeight="bold" fill={COLORS.text}>
              <text transform={`translate(${x1},${yc}) rotate(-90)`} textAnchor="middle" dominantBaseline="central">
                {name}
              </text>
              <text transform={`translate(${x2},${yc}) rotate(-90)`} textAnchor="middle" dominantBaseline="central">
                {Y_LABEL}
              </text>
            </g>
          );
        })}
        {REGIONS.map((name, c) => (
          <text key={`year-${name}`} x={COL_LEFT[c] + PLOT_W / 2} y={577} textAnchor="middle" fontFamily={FONT} fontSize={8.5} fill={COLORS.text}>
            Year
          </text>
        ))}
      </svg>
      {SCENARIOS.map((_, r) => REGIONS.map((__, c) => <Panel key={`${r}-${c}`} row={r} col={c} />))}
    </div>
  );
}
